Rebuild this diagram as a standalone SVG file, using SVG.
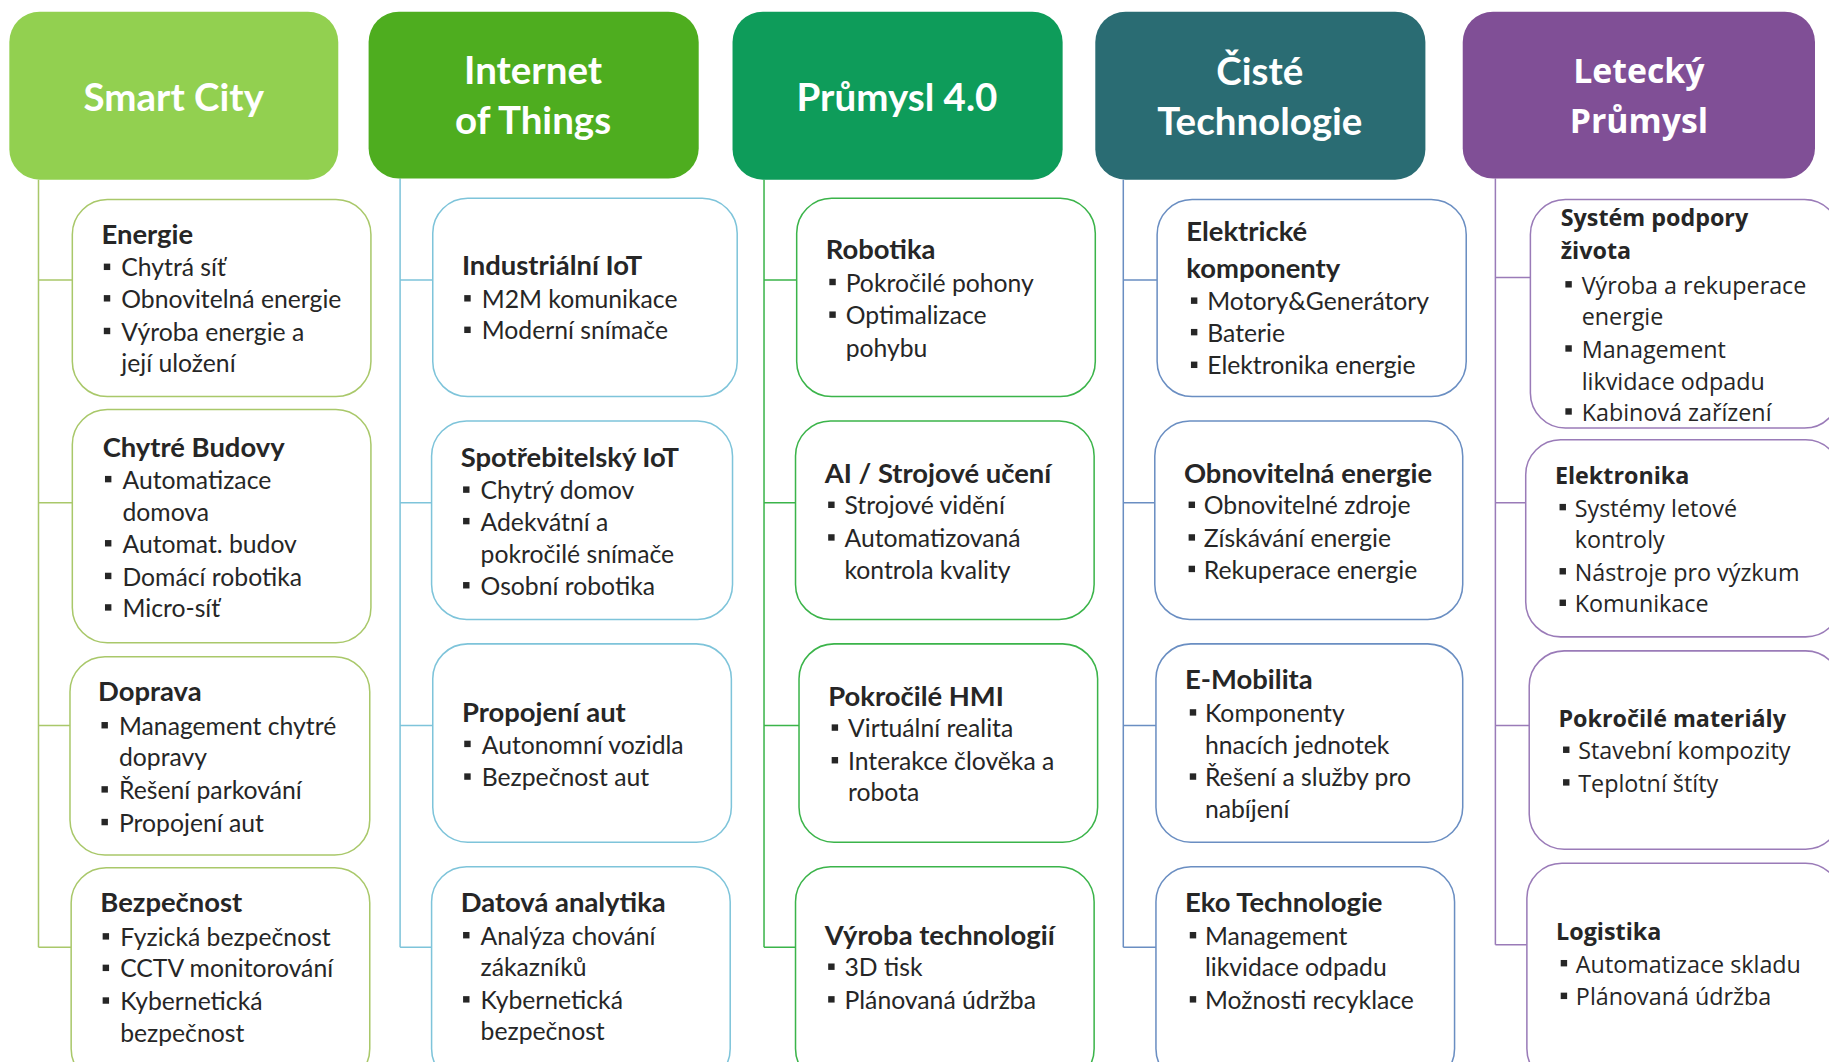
<svg xmlns="http://www.w3.org/2000/svg" width="1829" height="1062" viewBox="0 0 1829 1062">
<style>
.hd{font-family:Lato,"Liberation Sans",sans-serif;font-weight:700;font-size:33px;fill:#fff;text-anchor:middle}
.hd5{font-family:"Open Sans","Noto Sans",sans-serif;font-weight:700;font-size:29px;fill:#fff;text-anchor:middle}
.t{font-family:Lato,"Liberation Sans",sans-serif;font-weight:700;font-size:23.5px;fill:#262626}
.i{font-family:Lato,"Liberation Sans",sans-serif;font-size:21.2px;fill:#262626}
.t5{font-family:"Open Sans","Noto Sans",sans-serif;font-weight:700;font-size:20px;fill:#262626}
.i5{font-family:"Open Sans","Noto Sans",sans-serif;font-size:20px;fill:#262626}
.b{fill:#262626}
.box{fill:#fff;stroke-width:1.3}
.c1{stroke:#a9c86a}.c2{stroke:#7ec4da}.c3{stroke:#3bb44a}.c4{stroke:#6a8ec2}.c5{stroke:#9a7bb8}
.ln{fill:none;stroke-width:1.3}
</style>
<rect width="1829" height="1062" fill="#fff"/>
<g transform="scale(1.16645)">
<g id="connectors">
<path class="ln c1" d="M33 154V812M33 240H62M33 431H62M33 622H60M33 812H61"/>
<path class="ln c2" d="M343 153V812M343 240H371M343 431H370M343 622H371M343 812H370"/>
<path class="ln c3" d="M655 154V812M655 240H683M655 431H682M655 622H685M655 812H682"/>
<path class="ln c4" d="M963 154V812M963 240H992M963 431H990M963 622H991M963 812H991"/>
<path class="ln c5" d="M1282 153V810M1282 238H1312M1282 431H1308M1282 622H1311M1282 810H1309"/>
</g>

<g id="h-smartcity"><rect x="8" y="10" width="282" height="144" rx="26" fill="#92d050"/><text class="hd" x="149" y="95">Smart City</text></g>
<g id="h-iot"><rect x="316" y="10" width="283" height="143" rx="26" fill="#4ead1f"/><text class="hd" x="457" y="72">Internet</text><text class="hd" x="457" y="115">of Things</text></g>
<g id="h-prumysl"><rect x="628" y="10" width="283" height="144" rx="26" fill="#0e9c5a"/><text class="hd" x="769" y="95">Průmysl 4.0</text></g>
<g id="h-ciste"><rect x="939" y="10" width="283" height="144" rx="26" fill="#2a6c73"/><text class="hd" x="1080" y="73">Čisté</text><text class="hd" x="1080" y="116">Technologie</text></g>
<g id="h-letecky"><rect x="1254" y="10" width="302" height="143" rx="26" fill="#804f96"/><text class="hd5" x="1405" y="71">Letecký</text><text class="hd5" x="1405" y="114">Průmysl</text></g>

<g id="energie"><rect class="box c1" x="62" y="171" width="256" height="169" rx="30"/>
<text class="t" x="87" y="209">Energie</text>
<rect class="b" x="89" y="226" width="5.5" height="5.5"/><text class="i" x="104" y="237">Chytrá síť</text>
<rect class="b" x="89" y="253" width="5.5" height="5.5"/><text class="i" x="104" y="264">Obnovitelná energie</text>
<rect class="b" x="89" y="281" width="5.5" height="5.5"/><text class="i" x="104" y="292">Výroba energie a</text>
<text class="i" x="104" y="319">její uložení</text></g>

<g id="budovy"><rect class="box c1" x="62" y="351" width="256" height="200" rx="30"/>
<text class="t" x="88" y="392">Chytré Budovy</text>
<rect class="b" x="90" y="408" width="5.5" height="5.5"/><text class="i" x="105" y="419">Automatizace</text>
<text class="i" x="105" y="447">domova</text>
<rect class="b" x="90" y="463" width="5.5" height="5.5"/><text class="i" x="105" y="474">Automat. budov</text>
<rect class="b" x="90" y="491" width="5.5" height="5.5"/><text class="i" x="105" y="502">Domácí robotika</text>
<rect class="b" x="90" y="518" width="5.5" height="5.5"/><text class="i" x="105" y="529">Micro-síť</text></g>

<g id="doprava"><rect class="box c1" x="60" y="563" width="257" height="170" rx="30"/>
<text class="t" x="84" y="601">Doprava</text>
<rect class="b" x="87" y="619" width="5.5" height="5.5"/><text class="i" x="102" y="630">Management chytré</text>
<text class="i" x="102" y="657">dopravy</text>
<rect class="b" x="87" y="674" width="5.5" height="5.5"/><text class="i" x="102" y="685">Řešení parkování</text>
<rect class="b" x="87" y="702" width="5.5" height="5.5"/><text class="i" x="102" y="713">Propojení aut</text></g>

<g id="bezpecnost"><rect class="box c1" x="61" y="744" width="256" height="185" rx="30"/>
<text class="t" x="86" y="782">Bezpečnost</text>
<rect class="b" x="88" y="800" width="5.5" height="5.5"/><text class="i" x="103" y="811">Fyzická bezpečnost</text>
<rect class="b" x="88" y="827" width="5.5" height="5.5"/><text class="i" x="103" y="838">CCTV monitorování</text>
<rect class="b" x="88" y="855" width="5.5" height="5.5"/><text class="i" x="103" y="866">Kybernetická</text>
<text class="i" x="103" y="893">bezpečnost</text></g>

<g id="iiot"><rect class="box c2" x="371" y="170" width="261" height="170" rx="30"/>
<text class="t" x="396" y="236">Industriální IoT</text>
<rect class="b" x="398" y="253" width="5.5" height="5.5"/><text class="i" x="413" y="264">M2M komunikace</text>
<rect class="b" x="398" y="280" width="5.5" height="5.5"/><text class="i" x="413" y="291">Moderní snímače</text></g>

<g id="ciot"><rect class="box c2" x="370" y="361" width="258" height="170" rx="30"/>
<text class="t" x="395" y="400">Spotřebitelský IoT</text>
<rect class="b" x="397" y="417" width="5.5" height="5.5"/><text class="i" x="412" y="428">Chytrý domov</text>
<rect class="b" x="397" y="444" width="5.5" height="5.5"/><text class="i" x="412" y="455">Adekvátní a</text>
<text class="i" x="412" y="483">pokročilé snímače</text>
<rect class="b" x="397" y="499" width="5.5" height="5.5"/><text class="i" x="412" y="510">Osobní robotika</text></g>

<g id="propojeni"><rect class="box c2" x="371" y="552" width="256" height="170" rx="30"/>
<text class="t" x="396" y="619">Propojení aut</text>
<rect class="b" x="398" y="635" width="5.5" height="5.5"/><text class="i" x="413" y="646">Autonomní vozidla</text>
<rect class="b" x="398" y="663" width="5.5" height="5.5"/><text class="i" x="413" y="674">Bezpečnost aut</text></g>

<g id="analytika"><rect class="box c2" x="370" y="743" width="256" height="186" rx="30"/>
<text class="t" x="395" y="782">Datová analytika</text>
<rect class="b" x="397" y="799" width="5.5" height="5.5"/><text class="i" x="412" y="810">Analýza chování</text>
<text class="i" x="412" y="837">zákazníků</text>
<rect class="b" x="397" y="854" width="5.5" height="5.5"/><text class="i" x="412" y="865">Kybernetická</text>
<text class="i" x="412" y="892">bezpečnost</text></g>

<g id="robotika"><rect class="box c3" x="683" y="170" width="256" height="170" rx="30"/>
<text class="t" x="708" y="222">Robotika</text>
<rect class="b" x="711" y="239" width="5.5" height="5.5"/><text class="i" x="725" y="250">Pokročilé pohony</text>
<rect class="b" x="711" y="267" width="5.5" height="5.5"/><text class="i" x="725" y="278">Optimalizace</text>
<text class="i" x="725" y="306">pohybu</text></g>

<g id="ai"><rect class="box c3" x="682" y="361" width="256" height="170" rx="30"/>
<text class="t" x="707" y="414">AI / Strojové učení</text>
<rect class="b" x="710" y="430" width="5.5" height="5.5"/><text class="i" x="724" y="441">Strojové vidění</text>
<rect class="b" x="710" y="458" width="5.5" height="5.5"/><text class="i" x="724" y="469">Automatizovaná</text>
<text class="i" x="724" y="496">kontrola kvality</text></g>

<g id="hmi"><rect class="box c3" x="685" y="552" width="256" height="170" rx="30"/>
<text class="t" x="710" y="605">Pokročilé HMI</text>
<rect class="b" x="713" y="621" width="5.5" height="5.5"/><text class="i" x="727" y="632">Virtuální realita</text>
<rect class="b" x="713" y="649" width="5.5" height="5.5"/><text class="i" x="727" y="660">Interakce člověka a</text>
<text class="i" x="727" y="687">robota</text></g>

<g id="vyroba"><rect class="box c3" x="682" y="743" width="256" height="186" rx="30"/>
<text class="t" x="707" y="810">Výroba technologií</text>
<rect class="b" x="710" y="826" width="5.5" height="5.5"/><text class="i" x="724" y="837">3D tisk</text>
<rect class="b" x="710" y="854" width="5.5" height="5.5"/><text class="i" x="724" y="865">Plánovaná údržba</text></g>

<g id="elektricke"><rect class="box c4" x="992" y="171" width="265" height="169" rx="30"/>
<text class="t" x="1017" y="207">Elektrické</text>
<text class="t" x="1017" y="238">komponenty</text>
<rect class="b" x="1021" y="255" width="5.5" height="5.5"/><text class="i" x="1035" y="266">Motory&amp;Generátory</text>
<rect class="b" x="1021" y="282" width="5.5" height="5.5"/><text class="i" x="1035" y="293">Baterie</text>
<rect class="b" x="1021" y="310" width="5.5" height="5.5"/><text class="i" x="1035" y="321">Elektronika energie</text></g>

<g id="obnovitelna"><rect class="box c4" x="990" y="361" width="264" height="170" rx="30"/>
<text class="t" x="1015" y="414">Obnovitelná energie</text>
<rect class="b" x="1019" y="430" width="5.5" height="5.5"/><text class="i" x="1032" y="441">Obnovitelné zdroje</text>
<rect class="b" x="1019" y="458" width="5.5" height="5.5"/><text class="i" x="1032" y="469">Získávání energie</text>
<rect class="b" x="1019" y="485" width="5.5" height="5.5"/><text class="i" x="1032" y="496">Rekuperace energie</text></g>

<g id="emobilita"><rect class="box c4" x="991" y="552" width="263" height="170" rx="30"/>
<text class="t" x="1016" y="591">E-Mobilita</text>
<rect class="b" x="1020" y="608" width="5.5" height="5.5"/><text class="i" x="1033" y="619">Komponenty</text>
<text class="i" x="1033" y="646">hnacích jednotek</text>
<rect class="b" x="1020" y="663" width="5.5" height="5.5"/><text class="i" x="1033" y="674">Řešení a služby pro</text>
<text class="i" x="1033" y="701">nabíjení</text></g>

<g id="eko"><rect class="box c4" x="991" y="743" width="256" height="186" rx="30"/>
<text class="t" x="1016" y="782">Eko Technologie</text>
<rect class="b" x="1020" y="799" width="5.5" height="5.5"/><text class="i" x="1033" y="810">Management</text>
<text class="i" x="1033" y="837">likvidace odpadu</text>
<rect class="b" x="1020" y="854" width="5.5" height="5.5"/><text class="i" x="1033" y="865">Možnosti recyklace</text></g>

<g id="podpora"><rect class="box c5" x="1312" y="171" width="265" height="196" rx="30"/>
<text class="t5" x="1338" y="194">Systém podpory</text>
<text class="t5" x="1338" y="222">života</text>
<rect class="b" x="1342" y="241" width="5.5" height="5.5"/><text class="i5" x="1356" y="252">Výroba a rekuperace</text>
<text class="i5" x="1356" y="279">energie</text>
<rect class="b" x="1342" y="296" width="5.5" height="5.5"/><text class="i5" x="1356" y="307">Management</text>
<text class="i5" x="1356" y="334">likvidace odpadu</text>
<rect class="b" x="1342" y="350" width="5.5" height="5.5"/><text class="i5" x="1356" y="361">Kabinová zařízení</text></g>

<g id="elektronika"><rect class="box c5" x="1308" y="377" width="270" height="169" rx="30"/>
<text class="t5" x="1333" y="415">Elektronika</text>
<rect class="b" x="1337" y="432" width="5.5" height="5.5"/><text class="i5" x="1350" y="443">Systémy letové</text>
<text class="i5" x="1350" y="470">kontroly</text>
<rect class="b" x="1337" y="487" width="5.5" height="5.5"/><text class="i5" x="1350" y="498">Nástroje pro výzkum</text>
<rect class="b" x="1337" y="514" width="5.5" height="5.5"/><text class="i5" x="1350" y="525">Komunikace</text></g>

<g id="materialy"><rect class="box c5" x="1311" y="558" width="267" height="170" rx="30"/>
<text class="t5" x="1336" y="623">Pokročilé materiály</text>
<rect class="b" x="1340" y="640" width="5.5" height="5.5"/><text class="i5" x="1353" y="651">Stavební kompozity</text>
<rect class="b" x="1340" y="668" width="5.5" height="5.5"/><text class="i5" x="1353" y="679">Teplotní štíty</text></g>

<g id="logistika"><rect class="box c5" x="1309" y="740" width="269" height="189" rx="30"/>
<text class="t5" x="1334" y="806">Logistika</text>
<rect class="b" x="1338" y="823" width="5.5" height="5.5"/><text class="i5" x="1351" y="834">Automatizace skladu</text>
<rect class="b" x="1338" y="851" width="5.5" height="5.5"/><text class="i5" x="1351" y="862">Plánovaná údržba</text></g>
</g>
</svg>
